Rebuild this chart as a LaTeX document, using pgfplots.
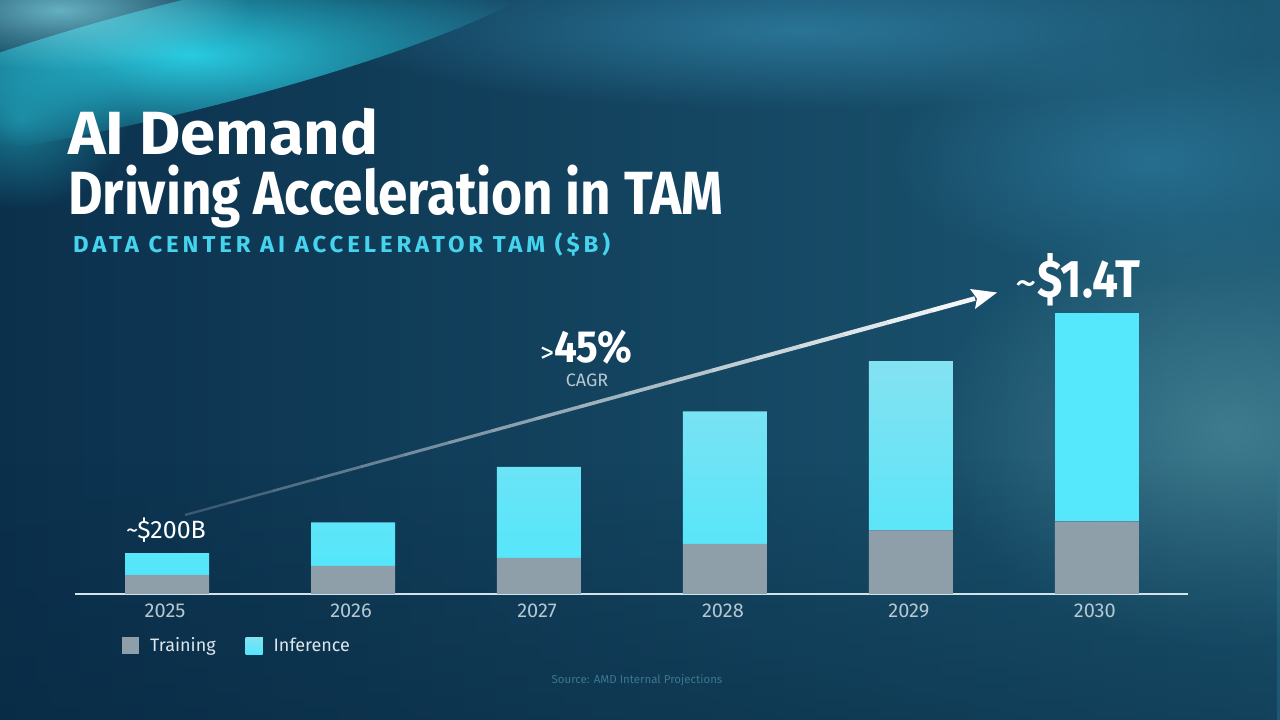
\documentclass[border=0pt]{standalone}
\usepackage{pgfplots}
\pgfplotsset{compat=1.18}
\usepackage{pgfplotstable}
\usepackage{fontspec}
\setmainfont{Fira Sans}[FakeStretch=1.0]
\newfontfamily\titlefontA{Fira Sans}[FakeStretch=1.04]
\newfontfamily\titlefont{Fira Sans}[FakeStretch=0.87]
\newfontfamily\numfont{Fira Sans}[FakeStretch=0.9]
\newfontfamily\subfont{Fira Sans}[FakeStretch=1.04, LetterSpace=17]
\usetikzlibrary{fadings,arrows.meta}
\definecolor{bgL}{HTML}{0B304C}
\definecolor{bgR}{HTML}{1C5873}
\definecolor{glowcyan}{HTML}{2AD3E8}
\definecolor{glowblue}{HTML}{2F7FA3}
\definecolor{glowteal}{HTML}{4A8898}
\definecolor{bgdark}{HTML}{082840}
\definecolor{trainc}{HTML}{8E9FAA}
\definecolor{inftop}{HTML}{84E2F1}
\definecolor{infbot}{HTML}{52E6FB}
\definecolor{inf30}{HTML}{55E8FC}
\definecolor{subc}{HTML}{45D3EE}
\definecolor{tickc}{HTML}{B5C8D2}
\definecolor{legc}{HTML}{DCE6EC}
\definecolor{axisc}{HTML}{D2E4EB}
\definecolor{srcc}{HTML}{3C7690}
\tikzfading[name=glow, inner color=transparent!0, outer color=transparent!100]
\tikzfading[name=fadedown, top color=transparent!100, bottom color=transparent!0]

\pgfplotstableread{
x train infer infer30
0 93 107 0
1 137 212 0
2 176 444 0
3 244 647 0
4 310 827 0
5 354 0 1016
}\tam

\begin{document}
\begin{tikzpicture}[x=1pt,y=1pt]
\useasboundingbox (0,0) rectangle (1280,720);
% ---------- background ----------
\begin{scope}
\clip (0,0) rectangle (1280,720);
\shade[left color=bgL, right color=bgR] (0,0) rectangle (1280,720);
\fill[glowteal, path fading=glow, opacity=0.75] (1230,290) ellipse (300 and 220);
\fill[glowblue, path fading=glow, opacity=0.8] (800,690) ellipse (480 and 80);
\fill[glowblue, path fading=glow, opacity=0.6] (1150,560) ellipse (260 and 120);
\fill[glowcyan, path fading=glow, opacity=0.95, rotate around={14:(190,665)}] (190,665) ellipse (380 and 55);
\fill[glowcyan!55!white, path fading=glow, opacity=0.7] (60,710) ellipse (190 and 60);
\fill[glowcyan, path fading=glow, opacity=0.45] (20,600) ellipse (110 and 90);
\fill[bgdark, path fading=fadedown, opacity=0.45] (0,0) rectangle (1280,260);
\end{scope}
% ---------- titles ----------
\node[anchor=base west, inner sep=0pt, white] at (68,565)
  {\titlefontA\bfseries\fontsize{61}{61}\selectfont AI Demand};
\node[anchor=base west, inner sep=0pt, white] at (68,505)
  {\titlefont\bfseries\fontsize{61}{61}\selectfont Driving Acceleration in TAM};
\node[anchor=base west, inner sep=0pt, subc] at (73,467)
  {\subfont\bfseries\fontsize{23}{23}\selectfont DATA CENTER AI ACCELERATOR TAM (\$B)};
% ---------- CAGR arrow ----------
\foreach \i in {0,...,17}{
  \pgfmathsetmacro{\ta}{\i/18}
  \pgfmathsetmacro{\tb}{(\i+1)/18}
  \pgfmathsetmacro{\op}{0.15+0.8*\tb}
  \pgfmathsetmacro{\lw}{2.2+2.4*\tb}
  \draw[white, opacity=\op, line width=\lw pt]
    ({185+790*\ta},{205+216.5*\ta}) -- ({185+790*\tb},{205+216.5*\tb});
}
\fill[white] (997,427.5) -- (970,431) -- (977,421.5) -- (975,411) -- cycle;
\node[anchor=base west, inner sep=0pt, white] at (540,357)
  {{\fontsize{28}{28}\selectfont >}{\numfont\bfseries\fontsize{45}{45}\selectfont 45\%}};
\node[anchor=base, inner sep=0pt, tickc] at (587,333)
  {\fontsize{18}{18}\selectfont CAGR};
% ---------- chart ----------
\begin{axis}[
  at={(75pt,126pt)}, anchor=south west,
  scale only axis, width=1113pt, height=300pt,
  xmin=-0.495, xmax=5.49, ymin=0, ymax=1464,
  ybar stacked, bar width=84pt,
  separate axis lines,
  axis x line=bottom, axis y line=none,
  x axis line style={-, draw=axisc, line width=2pt},
  xtick=data, xticklabels={2025,2026,2027,2028,2029,2030},
  ytick=\empty,
  major tick length=0pt,
  /pgf/number format/assume math mode=true,
  xticklabel style={font=\fontsize{20}{20}\selectfont, text=tickc, anchor=north, inner sep=0pt, yshift=-10pt, xshift=-2pt},
  clip=false,
  legend style={at={(0.0422,-0.1717)}, anchor=west, draw=none, fill=none,
    inner sep=0pt, legend columns=2, font=\fontsize{18}{18}\selectfont, text=legc,
    nodes={inner sep=0pt, anchor=west},
    /tikz/every odd column/.append style={column sep=11pt},
    /tikz/every even column/.append style={column sep=30pt}},
  legend image code/.code={\fill[#1] (0pt,-8.5pt) rectangle (17pt,8.5pt);},
]
\addplot[fill=trainc, draw=none] table[x=x, y=train] {\tam};
\addlegendentry{Training}
\addplot[top color=inftop, bottom color=infbot, draw=none,
  legend image code/.code={\fill[inf30] (0pt,-8.5pt) rectangle (17pt,8.5pt);}]
  table[x=x, y=infer] {\tam};
\addlegendentry{Inference}
\addplot[fill=inf30, draw=none, forget plot] table[x=x, y=infer30] {\tam};
\end{axis}
% ---------- value annotations ----------
\node[anchor=base west, inner sep=0pt, white] at (126,181)
  {\fontsize{25}{25}\selectfont \textasciitilde\$200B};
\node[anchor=base east, inner sep=0pt, white] at (1141,422)
  {{\fontsize{44}{44}\selectfont \textasciitilde}{\titlefont\bfseries\fontsize{53}{53}\selectfont \$1.4T}};
\node[anchor=base, inner sep=0pt, srcc] at (637,36)
  {\fontsize{11.5}{11.5}\selectfont Source: AMD Internal Projections};
\end{tikzpicture}
\end{document}
